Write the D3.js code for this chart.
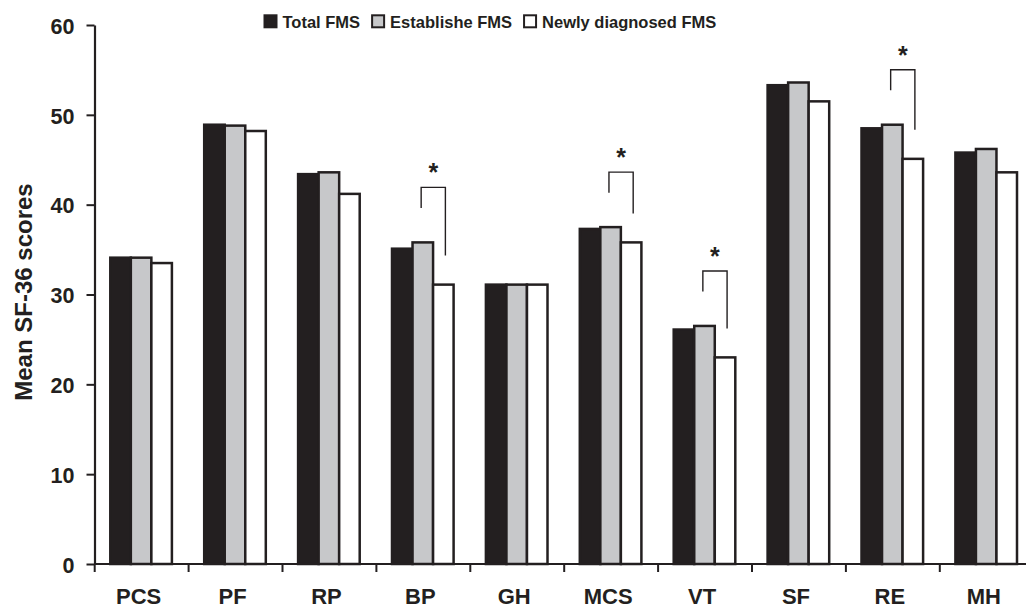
<!DOCTYPE html>
<html>
<head>
<meta charset="utf-8">
<script src="https://cdn.jsdelivr.net/npm/d3@7"></script>
<style>
  html, body { margin: 0; padding: 0; background: #fff; }
  svg { display: block; font-family: "Liberation Sans", Arial, Helvetica, sans-serif; font-weight: bold; }
</style>
</head>
<body>
<svg id="chart" width="1026" height="608"></svg>
<script>
// ---- data ----
const categories = ["PCS", "PF", "RP", "BP", "GH", "MCS", "VT", "SF", "RE", "MH"];
const seriesNames = ["Total FMS", "Establishe FMS", "Newly diagnosed FMS"];
const totalFMS = [34.1, 48.9, 43.4, 35.1, 31.1, 37.3, 26.1, 53.3, 48.5, 45.8];
const establishedFMS = [34.1, 48.8, 43.6, 35.8, 31.1, 37.5, 26.5, 53.6, 48.9, 46.2];
const newlyFMS = [33.5, 48.2, 41.2, 31.1, 31.1, 35.8, 23.0, 51.5, 45.1, 43.6];
const yTicks = [0, 10, 20, 30, 40, 50, 60];
const significant = ["BP", "MCS", "VT", "RE"];
const yTitle = "Mean SF-36 scores";

// ---- styles ----
const ink = "#231f20";
const fills = ["#231f20", "#c7c8ca", "#ffffff"];

const svg = d3.select("#chart");

const x0 = d3.scaleBand().domain(categories).range([94.7, 94.7 + 93.9 * categories.length]).padding(0);
const x1 = d3.scaleBand().domain(seriesNames).range([15.6, 77.2]).padding(0);
const y = d3.scaleLinear().domain([0, 60]).range([564, 25]);

const seriesValues = [totalFMS, establishedFMS, newlyFMS];

// bars
categories.forEach((c, i) => {
  seriesNames.forEach((s, j) => {
    const v = seriesValues[j][i];
    svg.append("rect")
      .attr("x", x0(c) + x1(s))
      .attr("y", y(v))
      .attr("width", x1.bandwidth())
      .attr("height", y(0) - y(v))
      .attr("fill", fills[j])
      .attr("stroke", ink)
      .attr("stroke-width", 2.5);
  });
});

// significance brackets
significant.forEach(c => {
  const i = categories.indexOf(c);
  const bw = x1.bandwidth();
  const left = x0(c) + x1(seriesNames[1]) + bw * 0.42;
  const right = x0(c) + x1(seriesNames[2]) + bw * 0.6;
  const top = y(establishedFMS[i]) - 55;
  const rightEnd = y(newlyFMS[i]) - 29;
  svg.append("path")
    .attr("d", `M${left},${top + 20.5}V${top}H${right}V${rightEnd}`)
    .attr("fill", "none")
    .attr("stroke", ink)
    .attr("stroke-width", 1.4);
  svg.append("text")
    .attr("x", (left + right) / 2)
    .attr("y", top - 6)
    .attr("text-anchor", "middle")
    .attr("font-size", 25)
    .attr("fill", ink)
    .text("*");
});

// y axis
const yAxis = d3.axisLeft(y).tickValues(yTicks).tickSize(8).tickSizeOuter(0).tickPadding(12);
const gy = svg.append("g").attr("transform", "translate(94.5,0)").call(yAxis);
gy.select(".domain").attr("stroke", ink).attr("stroke-width", 2.2);
gy.selectAll(".tick line").attr("stroke", ink).attr("stroke-width", 2);
gy.selectAll(".tick text")
  .attr("font-size", 21.5).attr("font-weight", "bold")
  .attr("font-family", "'Liberation Sans', Arial, sans-serif")
  .attr("fill", ink).attr("dy", "0.38em");

// x axis
const gx = svg.append("g").attr("transform", `translate(0,${y(0)})`);
gx.append("line").attr("x1", 94.5).attr("x2", 1040).attr("y1", 0).attr("y2", 0)
  .attr("stroke", ink).attr("stroke-width", 2.2);
const boundaries = categories.map(c => x0(c)).concat([x0.range()[1]]);
gx.selectAll("line.tk").data(boundaries).join("line").attr("class", "tk")
  .attr("x1", d => d).attr("x2", d => d).attr("y1", 0).attr("y2", 8)
  .attr("stroke", ink).attr("stroke-width", 2);
gx.selectAll("text.lbl").data(categories).join("text").attr("class", "lbl")
  .attr("x", d => x0(d) + x0.bandwidth() / 2 - 3)
  .attr("y", 39.5)
  .attr("text-anchor", "middle")
  .attr("font-size", 22)
  .attr("fill", ink)
  .text(d => d);

// y title
svg.append("text")
  .attr("transform", "translate(32,292) rotate(-90)")
  .attr("text-anchor", "middle")
  .attr("font-size", 24)
  .attr("fill", ink)
  .text(yTitle);

// legend
let lx = 263.5;
seriesNames.forEach((s, j) => {
  svg.append("rect")
    .attr("x", lx + 1).attr("y", 15.3).attr("width", 12).attr("height", 12)
    .attr("fill", fills[j]).attr("stroke", ink).attr("stroke-width", 2);
  const t = svg.append("text")
    .attr("x", lx + 19).attr("y", 28)
    .attr("font-size", 16.5)
    .attr("fill", ink)
    .text(s);
  lx += 19 + t.node().getComputedTextLength() + 11;
});
</script>
</body>
</html>
